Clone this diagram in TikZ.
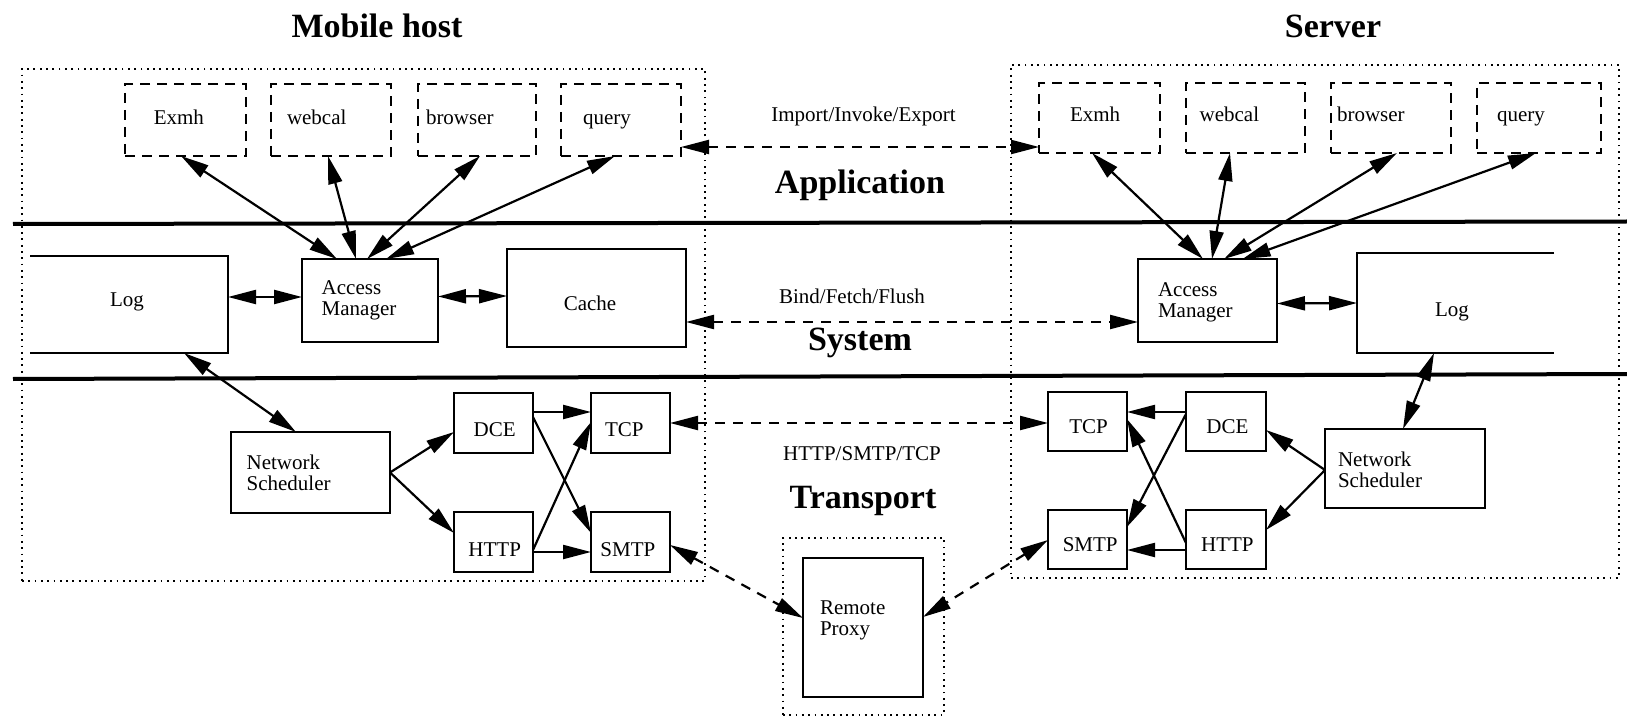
\documentclass[tikz,border=0pt]{standalone}
\usepackage{fontspec}
\setmainfont{Liberation Serif}
\usetikzlibrary{arrows.meta}
\begin{document}
\begin{tikzpicture}[x=1pt,y=-1pt,
  every node/.style={inner sep=0pt, outer sep=0pt},
  region/.style={draw, line width=1.8pt, dash pattern=on 1.8pt off 4.5pt},
  box/.style={draw, line width=2.2pt},
  appbox/.style={draw, line width=2.2pt, dash pattern=on 10pt off 7pt},
  txt/.style={font=\fontsize{21}{21}\selectfont, anchor=base west, align=left},
  ctxt/.style={font=\fontsize{21}{21}\selectfont, anchor=base},
  layer/.style={font=\bfseries\fontsize{34}{36}\selectfont, anchor=base},
  hd/.tip={Triangle[length=28pt,width=14pt]},
  link/.style={line width=2.2pt, hd-hd},
  flow/.style={line width=2.2pt, -hd},
  remote/.style={line width=2.2pt, hd-hd, dash pattern=on 10pt off 8pt},
  rule/.style={line width=4pt},
  sz/.style 2 args={minimum width=#1pt, minimum height=#2pt}]
\useasboundingbox (0,0) rectangle (1627,719);

% ---------- layer separators ----------
\draw[rule] (13,224) -- (1627,221.5);
\draw[rule] (13,379) -- (1627,374);

% ---------- host regions ----------
\node[region, sz={683}{512}] (mHost) at (363.5,325) {};
\node[region, sz={608}{513}] (sHost) at (1315,321.5) {};
\node[region, sz={161}{177}] (pHost) at (863.5,626.5) {};

% ---------- titles and layer names ----------
\node[layer] (mTitle) at (377,37.3) {Mobile host};
\node[layer] (sTitle) at (1333,37.3) {Server};
\node[layer] (lApp) at (860,193.3) {Application};
\node[layer] (lSys) at (860,350) {System};
\node[layer] (lTra) at (863,508.3) {Transport};
\node[ctxt] (pIIE) at (863.5,121.7) {Import/Invoke/Export};
\node[ctxt] (pBFF) at (852,303.3) {Bind/Fetch/Flush};
\node[ctxt] (pHST) at (862,460) {HTTP/SMTP/TCP};

% ---------- mobile host: applications ----------
\node[appbox, sz={121}{72}] (mExmh) at (185.5,120) {};
\node[appbox, sz={120}{72}] (mWeb) at (331,120) {};
\node[appbox, sz={118}{72}] (mBrow) at (477,120) {};
\node[appbox, sz={120}{72}] (mQuery) at (621,120) {};
\node[txt] (mExmhT) at (153.8,125) {Exmh};
\node[txt] (mWebT) at (287,125) {webcal};
\node[txt] (mBrowT) at (426,125) {browser};
\node[txt] (mQueryT) at (583,125) {query};

% ---------- mobile host: system ----------
\node[sz={198}{97}] (mLog) at (129,304.5) {};
\draw[box] (mLog.north west) -- (mLog.north east) -- (mLog.south east) -- (mLog.south west);
\node[ctxt] (mLogT) at (127,306.7) {Log};
\node[box, sz={136}{83}] (mAM) at (370,300.5) {};
\node[txt] (mAMT) at (321.7,316) {Access\\Manager};
\node[box, sz={179}{98}] (mCache) at (596.5,298) {};
\node[ctxt] (mCacheT) at (590,310) {Cache};

% ---------- mobile host: transport ----------
\node[box, sz={159}{81}] (mNS) at (310.5,472.5) {};
\node[txt] (mNST) at (246.6,490) {Network\\Scheduler};
\node[box, sz={79}{60}] (mDCE) at (493.5,423) {};
\node[box, sz={79}{60}] (mTCP) at (630.5,423) {};
\node[box, sz={79}{60}] (mHTTP) at (493.5,542) {};
\node[box, sz={79}{60}] (mSMTP) at (630.5,542) {};
\node[ctxt] (mDCET) at (494.7,436.7) {DCE};
\node[ctxt] (mTCPT) at (624.4,436.7) {TCP};
\node[ctxt] (mHTTPT) at (494.7,556.7) {HTTP};
\node[ctxt] (mSMTPT) at (627.9,556.7) {SMTP};

% ---------- server: applications ----------
\node[appbox, sz={121}{70}] (sExmh) at (1099.5,118) {};
\node[appbox, sz={119}{70}] (sWeb) at (1245.5,118) {};
\node[appbox, sz={120}{70}] (sBrow) at (1391,118) {};
\node[appbox, sz={124}{70}] (sQuery) at (1539,118) {};
\node[txt] (sExmhT) at (1070,122) {Exmh};
\node[txt] (sWebT) at (1199.6,122) {webcal};
\node[txt] (sBrowT) at (1337,122) {browser};
\node[txt] (sQueryT) at (1497,122) {query};

% ---------- server: system ----------
\node[box, sz={139}{83}] (sAM) at (1207.5,300.5) {};
\node[txt] (sAMT) at (1158,317) {Access\\Manager};
\node[sz={197}{100}] (sLog) at (1455.5,303) {};
\draw[box] (sLog.north east) -- (sLog.north west) -- (sLog.south west) -- (sLog.south east);
\node[ctxt] (sLogT) at (1452,316.7) {Log};

% ---------- server: transport ----------
\node[box, sz={160}{79}] (sNS) at (1405,468.5) {};
\node[txt] (sNST) at (1338,487) {Network\\Scheduler};
\node[box, sz={79}{59}] (sTCP) at (1087.5,421.5) {};
\node[box, sz={80}{59}] (sDCE) at (1226,421.5) {};
\node[box, sz={79}{59}] (sSMTP) at (1087.5,539.5) {};
\node[box, sz={80}{59}] (sHTTP) at (1226,539.5) {};
\node[ctxt] (sTCPT) at (1088.6,433) {TCP};
\node[ctxt] (sDCET) at (1227.4,433) {DCE};
\node[ctxt] (sSMTPT) at (1090.2,551.7) {SMTP};
\node[ctxt] (sHTTPT) at (1227.4,551.7) {HTTP};

% ---------- remote proxy ----------
\node[box, sz={120}{139}] (proxy) at (863,627.5) {};
\node[txt] (proxyT) at (820,635) {Remote\\Proxy};

% ---------- mobile host connectors ----------
\draw[link] ([xshift=-4.5pt]mExmh.south) -- ([xshift=-33pt]mAM.north);
\draw[link] ([xshift=-3pt]mWeb.south) -- ([xshift=-14pt]mAM.north);
\draw[link] ([xshift=3pt]mBrow.south) -- ([xshift=-3pt]mAM.north);
\draw[link] ([xshift=-6pt]mQuery.south) -- ([xshift=16pt]mAM.north);
\draw[link] ([yshift=7.5pt]mLog.east) -- ([yshift=3.5pt]mAM.west);
\draw[link] ([yshift=4pt]mAM.east) -- ([yshift=2pt]mCache.west);
\draw[link] ([xshift=55pt]mLog.south) -- ([xshift=-14.5pt]mNS.north);
\draw[flow] (mNS.east) -- ([yshift=-9pt]mDCE.west);
\draw[flow] (mNS.east) -- ([yshift=9pt]mHTTP.west);
\draw[flow] ([yshift=11pt]mDCE.east) -- ([yshift=11pt]mTCP.west);
\draw[flow] ([yshift=6pt]mDCE.east) -- ([yshift=9pt]mSMTP.west);
\draw[flow] ([yshift=-8pt]mHTTP.east) -- ([yshift=1pt]mTCP.west);
\draw[flow] ([yshift=-10pt]mHTTP.east) -- ([yshift=-10pt]mSMTP.west);

% ---------- server connectors ----------
\draw[link] ([xshift=-7.5pt]sExmh.south) -- ([xshift=-4.5pt]sAM.north);
\draw[link] ([xshift=-15.5pt]sWeb.south) -- ([xshift=4.5pt]sAM.north);
\draw[link] ([xshift=6pt]sBrow.south) -- ([xshift=16.5pt]sAM.north);
\draw[link] ([xshift=-3pt]sQuery.south) -- ([xshift=35pt]sAM.north);
\draw[link] ([yshift=-3pt]sAM.east) -- ([yshift=0pt]sLog.west);
\draw[link] ([xshift=-21.5pt]sLog.south) -- ([xshift=-2pt]sNS.north);
\draw[flow] ([yshift=-1.5pt]sNS.west) -- ([yshift=-8.5pt]sDCE.east);
\draw[flow] ([yshift=-1.5pt]sNS.west) -- ([yshift=9.5pt]sHTTP.east);
\draw[flow] ([yshift=9.5pt]sDCE.west) -- ([yshift=9.5pt]sTCP.east);
\draw[flow] ([yshift=7.5pt]sDCE.west) -- ([yshift=12.5pt]sSMTP.east);
\draw[flow] ([yshift=-3.5pt]sHTTP.west) -- ([yshift=2.5pt]sTCP.east);
\draw[flow] ([yshift=-10.5pt]sHTTP.west) -- ([yshift=-10.5pt]sSMTP.east);

% ---------- peer-to-peer protocols ----------
\draw[remote] ([yshift=-27pt]mQuery.east) -- ([yshift=-29pt]sExmh.west);
\draw[remote] ([yshift=-24pt]mCache.east) -- ([yshift=-21.5pt]sAM.west);
\draw[remote] (mTCP.east) -- ([yshift=-1.5pt]sTCP.west);
\draw[remote] ([yshift=-3pt]mSMTP.east) -- ([yshift=9.5pt]proxy.west);
\draw[remote] ([yshift=-0.5pt]sSMTP.west) -- ([yshift=10.5pt]proxy.east);
\end{tikzpicture}
\end{document}
